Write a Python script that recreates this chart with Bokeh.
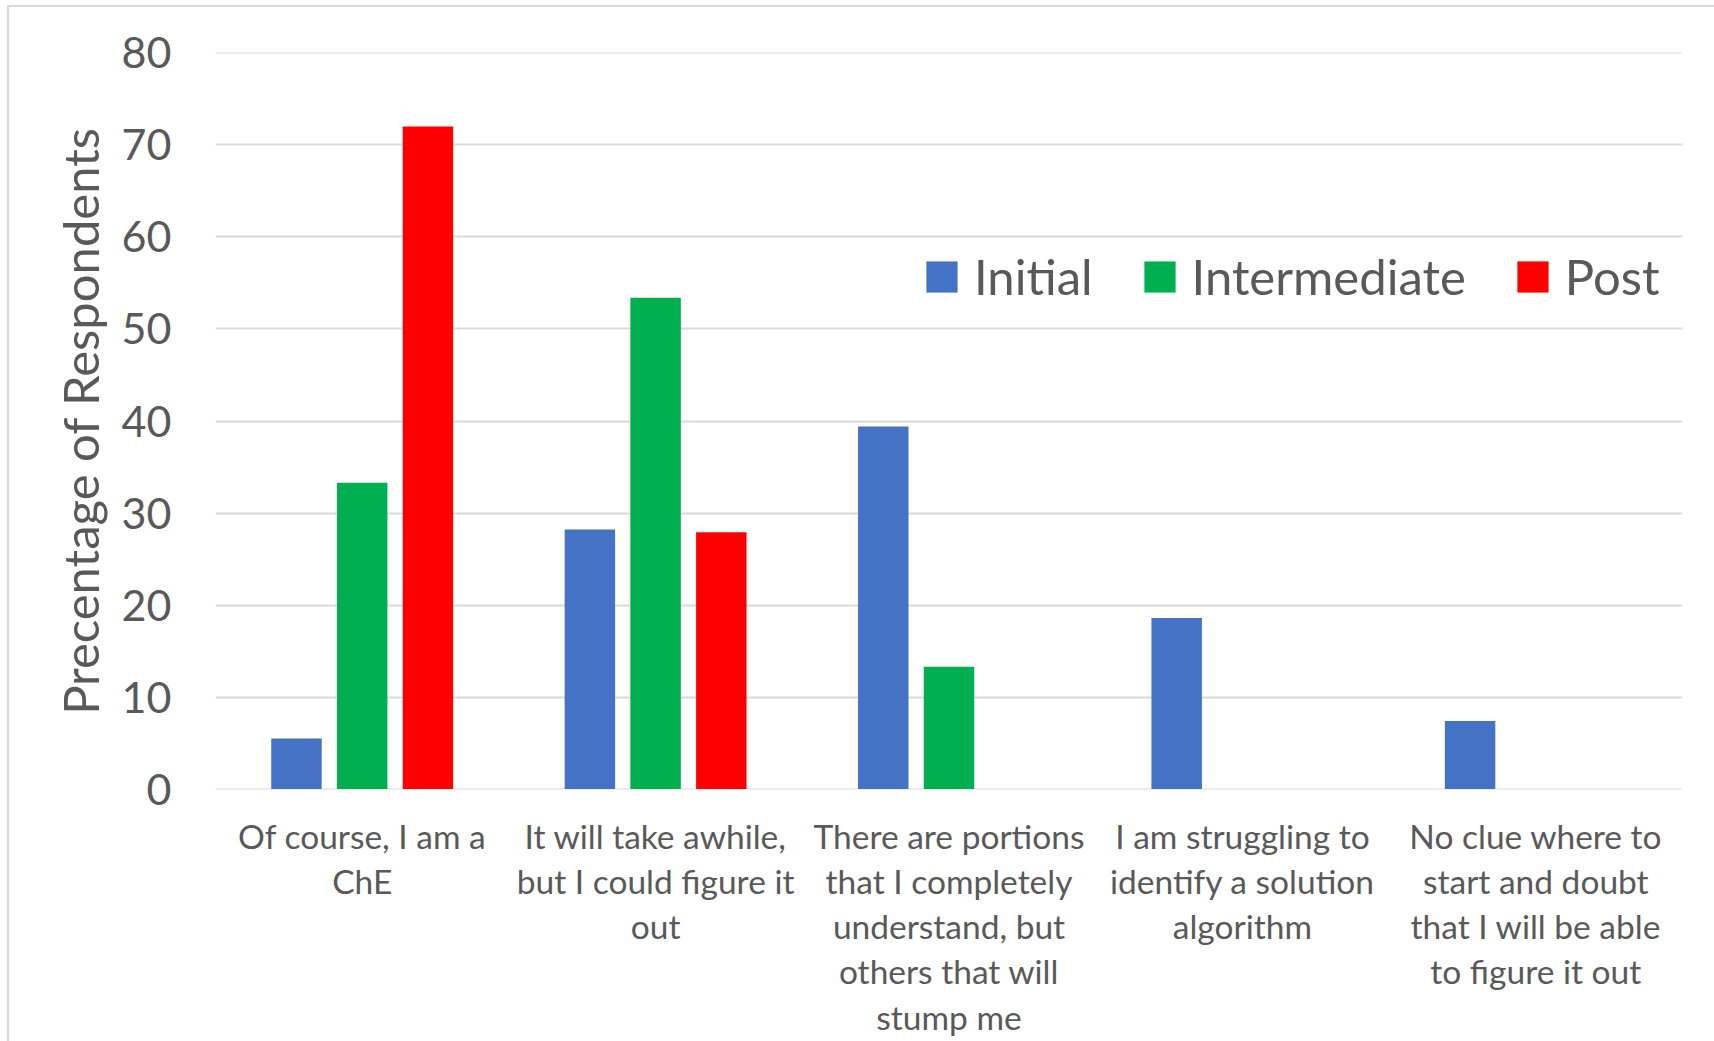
from bokeh.plotting import figure
from bokeh.layouts import column
from bokeh.models import (ColumnDataSource, FactorRange, Range1d, Legend, LegendItem,
                          FixedTicker)
from bokeh.core.properties import value
from bokeh.transform import dodge
from bokeh.embed import file_html
from bokeh.resources import INLINE

categories = [
    "Of course, I am a ChE",
    "It will take awhile, but I could figure it out",
    "There are portions that I completely understand, but others that will stump me",
    "I am struggling to identify a solution algorithm",
    "No clue where to start and doubt that I will be able to figure it out",
]
category_lines = [
    ["Of course, I am a", "ChE"],
    ["It will take awhile,", "but I could figure it", "out"],
    ["There are portions", "that I completely", "understand, but", "others that will", "stump me"],
    ["I am struggling to", "identify a solution", "algorithm"],
    ["No clue where to", "start and doubt", "that I will be able", "to figure it out"],
]
series = ["Initial", "Intermediate", "Post"]
initial = [5.5, 28.2, 39.4, 18.6, 7.4]
intermediate = [33.3, 53.4, 13.3, 0, 0]
post = [72.0, 27.9, 0, 0, 0]
y_ticks = [0, 10, 20, 30, 40, 50, 60, 70, 80]
y_title = "Precentage of Respondents"

colors = ["#4472C4", "#00B050", "#FF0000"]
FONT = "Lato"
TXT = "#595959"
GRID = "#d9d9d9"

W = 1705
H_TOP = 808
H_BOT = 226
LINE_H = 45.3
FIRST_BASE = 20

src = ColumnDataSource(dict(cat=categories, Initial=initial,
                            Intermediate=intermediate, Post=post))
xr = FactorRange(*categories, range_padding=0)

p = figure(width=W, height=H_TOP, output_backend="svg", toolbar_location=None,
           x_range=xr, y_range=Range1d(-0.05, 80.05),
           min_border_left=206, min_border_right=32,
           min_border_top=45, min_border_bottom=26)
p.outline_line_color = None
p.background_fill_color = "white"
p.border_fill_color = "white"

offsets = [-0.224, 0.0, 0.224]
renderers = []
for s, off, c in zip(series, offsets, colors):
    r = p.vbar(x=dodge("cat", off, range=p.x_range), top=s, width=0.172,
               source=src, fill_color=c, line_color=None)
    renderers.append(r)

p.xaxis.visible = False
p.xgrid.grid_line_color = None

p.yaxis.ticker = FixedTicker(ticks=y_ticks)
p.yaxis.axis_line_color = None
p.yaxis.major_tick_line_color = None
p.yaxis.minor_tick_line_color = None
p.yaxis.major_label_text_font = FONT
p.yaxis.major_label_text_font_size = "43px"
p.yaxis.major_label_text_color = TXT
p.yaxis.major_label_standoff = 38
p.yaxis.axis_label = y_title
p.yaxis.axis_label_text_font = FONT
p.yaxis.axis_label_text_font_size = "49px"
p.yaxis.axis_label_text_font_style = "normal"
p.yaxis.axis_label_text_color = TXT
p.yaxis.axis_label_standoff = 10
p.ygrid.grid_line_color = GRID
p.ygrid.grid_line_width = 2

legend = Legend(items=[LegendItem(label=s, renderers=[r]) for s, r in zip(series, renderers)],
                orientation="horizontal", location=(707, 484), padding=0, spacing=47,
                label_standoff=13, glyph_width=39, glyph_height=39,
                label_text_font=FONT, label_text_font_size="49px",
                label_text_color=TXT, border_line_alpha=0, background_fill_alpha=0)
p.add_layout(legend)

# category labels, one row per wrapped line
lx, ly, lt = [], [], []
for cat, lines in zip(categories, category_lines):
    for k, line in enumerate(lines):
        lx.append(cat)
        ly.append(FIRST_BASE + LINE_H * k)
        lt.append(line)
lab_src = ColumnDataSource(dict(x=lx, y=ly, text=lt))

p2 = figure(width=W, height=H_BOT, output_backend="svg", toolbar_location=None,
            x_range=xr, y_range=Range1d(H_BOT, 0),
            x_axis_location=None, y_axis_location=None,
            min_border_left=206, min_border_right=32,
            min_border_top=0, min_border_bottom=0)
p2.outline_line_color = None
p2.grid.grid_line_color = None
p2.border_fill_color = "white"
p2.text(x="x", y="y", text="text", source=lab_src, text_align="center",
        text_baseline="alphabetic", text_font=value(FONT), text_font_size="33.5px",
        text_color=TXT)

layout = column(p, p2, spacing=0)
layout.margin = (5, 0, 0, 7)
layout.styles = {"border-left": "2px solid #d9d9d9", "border-top": "2px solid #d9d9d9"}

open("out.html", "w").write(file_html(layout, INLINE))
